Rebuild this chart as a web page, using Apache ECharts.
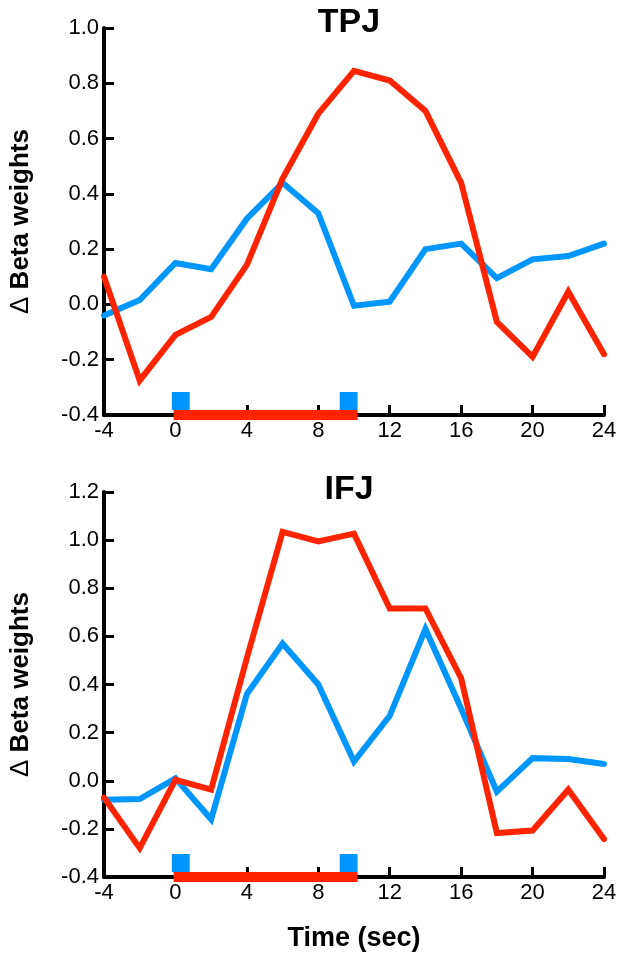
<!DOCTYPE html>
<html>
<head>
<meta charset="utf-8">
<script src="https://cdn.jsdelivr.net/npm/echarts@6/dist/echarts.min.js"></script>
<style>
  html, body { margin: 0; padding: 0; background: #fff; }
  #chart { width: 620px; height: 957px; }
</style>
</head>
<body>
<div id="chart"></div>
<script>
// Time points (seconds relative to trial onset)
const timeSec = [-4, -2, 0, 2, 4, 6, 8, 10, 12, 14, 16, 18, 20, 22, 24];
const xTicks = { min: -4, max: 24, step: 4 };

// TPJ response time courses
const tpjBlue = [-0.04, 0.016, 0.15, 0.127, 0.31, 0.44, 0.33, -0.005, 0.01, 0.20, 0.22, 0.095, 0.163, 0.175, 0.22];
const tpjRed  = [0.10, -0.275, -0.11, -0.045, 0.143, 0.455, 0.69, 0.845, 0.81, 0.70, 0.44, -0.063, -0.19, 0.046, -0.18];

// IFJ response time courses
const ifjBlue = [-0.079, -0.076, 0.01, -0.16, 0.36, 0.57, 0.40, 0.08, 0.27, 0.63, 0.30, -0.045, 0.094, 0.09, 0.07];
const ifjRed  = [-0.07, -0.28, 0.004, -0.037, 0.51, 1.034, 0.995, 1.027, 0.716, 0.716, 0.426, -0.217, -0.207, -0.037, -0.242];

// Y ranges for each panel
const tpjY = { min: -0.4, max: 1.0, step: 0.2 };
const ifjY = { min: -0.4, max: 1.2, step: 0.2 };

// Timing markers along the time axis: task period and cue blocks (seconds)
const taskBar = [[-0.1, 10.2]];
const cueBlocks = [[-0.2, 0.8], [9.2, 10.2]];

const BLUE = '#0096ff';
const RED = '#ff2400';
const FONT = '"Liberation Sans", Arial, sans-serif';

const chart = echarts.init(document.getElementById('chart'), null, { renderer: 'canvas' });

function pairs(xs, ys) { return xs.map((x, i) => [x, ys[i]]); }

function xAxisDef(gi) {
  return {
    type: 'value', gridIndex: gi, min: xTicks.min, max: xTicks.max, interval: xTicks.step,
    axisLine: { show: true, onZero: false, lineStyle: { color: '#000', width: 4 } },
    axisTick: { show: true, inside: true, length: 10, lineStyle: { color: '#000', width: 3 } },
    axisLabel: { color: '#000', fontSize: 22, fontFamily: FONT, margin: 5, formatter: v => String(v) },
    splitLine: { show: false }
  };
}

function yAxisDef(gi, r) {
  return {
    type: 'value', gridIndex: gi, min: r.min, max: r.max, interval: r.step,
    name: '{d|\u0394} {b|Beta weights}', nameLocation: 'middle', nameRotate: 90, nameGap: 70,
    nameTextStyle: {
      color: '#000', fontSize: 26, fontWeight: 'bold', fontFamily: FONT,
      rich: {
        d: { color: '#000', fontSize: 26, fontWeight: 'normal', fontFamily: FONT },
        b: { color: '#000', fontSize: 26, fontWeight: 'bold', fontFamily: FONT }
      }
    },
    axisLine: { show: true, onZero: false, lineStyle: { color: '#000', width: 4 } },
    axisTick: { show: true, inside: true, length: 10, lineStyle: { color: '#000', width: 3 } },
    axisLabel: { color: '#000', fontSize: 22, fontFamily: FONT, margin: 5, formatter: v => v.toFixed(1) },
    splitLine: { show: false }
  };
}

function lineSeries(gi, ys, color, z) {
  return {
    type: 'line', xAxisIndex: gi, yAxisIndex: gi, data: pairs(timeSec, ys),
    symbol: 'none', showSymbol: false, z: z, silent: true,
    lineStyle: { color: color, width: 6, cap: 'round', join: 'miter' }
  };
}

// Rectangles placed on the time axis, offset in pixels from the axis baseline
function blockSeries(gi, data, yBase, color, top, bottom, z) {
  return {
    type: 'custom', xAxisIndex: gi, yAxisIndex: gi, data: data, z: z, silent: true,
    encode: { x: [0, 1] },
    renderItem: function (params, api) {
      const s = api.coord([api.value(0), yBase]);
      const e = api.coord([api.value(1), yBase]);
      return {
        type: 'rect',
        shape: { x: s[0], y: s[1] + top, width: e[0] - s[0], height: bottom - top },
        style: { fill: color }
      };
    }
  };
}

const option = {
  animation: false,
  backgroundColor: '#fff',
  grid: [
    { left: 103, right: 16, top: 28, height: 387 },
    { left: 103, right: 16, top: 492, height: 385 }
  ],
  xAxis: [
    xAxisDef(0),
    Object.assign(xAxisDef(1), {
      name: 'Time (sec)', nameLocation: 'middle', nameGap: 48,
      nameTextStyle: { color: '#000', fontSize: 27, fontWeight: 'bold', fontFamily: FONT }
    })
  ],
  yAxis: [yAxisDef(0, tpjY), yAxisDef(1, ifjY)],
  graphic: [
    { type: 'text', x: 349, y: 6, style: { text: 'TPJ', fill: '#000', font: 'bold 34px ' + FONT, textAlign: 'center', textVerticalAlign: 'top' } },
    { type: 'text', x: 349, y: 473, style: { text: 'IFJ', fill: '#000', font: 'bold 34px ' + FONT, textAlign: 'center', textVerticalAlign: 'top' } }
  ],
  series: [
    lineSeries(0, tpjBlue, BLUE, 3),
    lineSeries(0, tpjRed, RED, 4),
    blockSeries(0, taskBar, tpjY.min, RED, -5, 5, 5),
    blockSeries(0, cueBlocks, tpjY.min, BLUE, -23, -5, 5),
    lineSeries(1, ifjBlue, BLUE, 3),
    lineSeries(1, ifjRed, RED, 4),
    blockSeries(1, taskBar, ifjY.min, RED, -5, 5, 5),
    blockSeries(1, cueBlocks, ifjY.min, BLUE, -23, -5, 5)
  ]
};

chart.setOption(option);
</script>
</body>
</html>
